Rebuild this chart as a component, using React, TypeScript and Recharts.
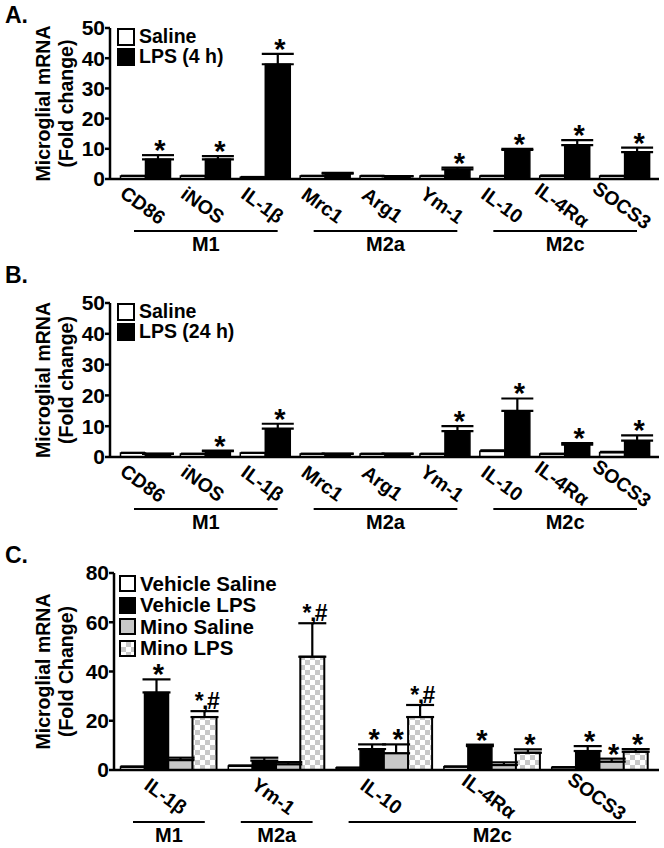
import React from 'react'
import { BarChart, Bar, XAxis, YAxis, ErrorBar, LabelList, Legend } from 'recharts'

const FONT = '"Liberation Sans", Arial, Helvetica, sans-serif'

// ---- Panels A and B: nine genes, saline vs LPS ----
const genesAB = ['CD86', 'iNOS', 'IL-1β', 'Mrc1', 'Arg1', 'Ym-1', 'IL-10', 'IL-4Rα', 'SOCS3']
const groupNamesAB = ['M1', 'M2a', 'M2c']
const groupSizesAB = [3, 3, 3]

const salineA = [1.0, 1.0, 0.6, 1.0, 1.0, 1.0, 1.0, 1.0, 1.0]
const salineAErr = [0.1, 0.1, 0.1, 0.1, 0.1, 0.1, 0.1, 0.2, 0.1]
const lps4h = [6.5, 6.5, 38.0, 1.8, 0.9, 3.2, 9.6, 11.2, 8.9]
const lps4hErr = [1.4, 1.1, 3.4, 0.2, 0.1, 0.6, 0.4, 1.7, 1.5]
const lps4hSig = ['*', '*', '*', '', '', '*', '*', '*', '*']

const salineB = [1.3, 1.0, 1.3, 1.0, 1.0, 1.0, 1.9, 1.0, 1.5]
const salineBErr = [0.1, 0.1, 0.1, 0.1, 0.1, 0.1, 0.3, 0.1, 0.2]
const lps24h = [1.0, 1.9, 9.2, 1.0, 1.0, 8.4, 15.0, 4.0, 5.3]
const lps24hErr = [0.1, 0.2, 1.6, 0.1, 0.1, 1.6, 4.0, 0.5, 1.7]
const lps24hSig = ['', '*', '*', '', '', '*', '*', '*', '*']

// ---- Panel C: minocycline ----
const genesC = ['IL-1β', 'Ym-1', 'IL-10', 'IL-4Rα', 'SOCS3']
const groupNamesC = ['M1', 'M2a', 'M2c']
const groupSizesC = [1, 1, 3]

const vehSaline = [1.2, 1.6, 0.9, 1.3, 1.0]
const vehSalineErr = [0.3, 0.3, 0.1, 0.2, 0.2]
const vehLps = [31.5, 3.8, 8.5, 9.7, 7.7]
const vehLpsErr = [5.3, 1.2, 1.9, 0.6, 2.0]
const vehLpsSig = ['*', '', '*', '*', '*']
const minoSaline = [4.0, 2.3, 6.8, 2.0, 3.4]
const minoSalineErr = [1.0, 0.9, 3.6, 1.1, 1.2]
const minoSalineSig = ['', '', '*', '', '*']
const minoLps = [21.5, 46.0, 21.5, 7.0, 7.4]
const minoLpsErr = [2.4, 13.6, 4.9, 1.4, 1.1]
const minoLpsSig = ['*,#', '*,#', '*,#', '*', '*']

const ticksAB = [0, 10, 20, 30, 40, 50]
const ticksC = [0, 20, 40, 60, 80]

const CHECKER = 'repeating-conic-gradient(#c8c8c8 0 25%, #ffffff 0 50%) 0 0 / 10px 10px'

const rowsAB = (saline: number[], sErr: number[], lps: number[], lErr: number[], sig: string[]) =>
  genesAB.map((g, i) => ({
    gene: g,
    saline: saline[i],
    salineErr: [0, sErr[i]],
    lps: lps[i],
    lpsErr: [0, lErr[i]],
    lpsSig: sig[i],
  }))

const dataA = rowsAB(salineA, salineAErr, lps4h, lps4hErr, lps4hSig)
const dataB = rowsAB(salineB, salineBErr, lps24h, lps24hErr, lps24hSig)
const dataC = genesC.map((g, i) => ({
  gene: g,
  vs: vehSaline[i], vsErr: [0, vehSalineErr[i]],
  vl: vehLps[i], vlErr: [0, vehLpsErr[i]], vlSig: vehLpsSig[i],
  ms: minoSaline[i], msErr: [0, minoSalineErr[i]], msSig: minoSalineSig[i],
  ml: minoLps[i], mlErr: [0, minoLpsErr[i]], mlSig: minoLpsSig[i],
}))

// middle index of each bracket group
const groupMids = (sizes: number[]) => {
  let start = 0
  return sizes.map((n) => {
    const mid = start + (n - 1) / 2
    start += n
    return mid
  })
}

const makeTick = (names: string[], sizes: number[], band: number) => {
  const mids = groupMids(sizes)
  return (props: any) => {
    const { x, y, payload, index } = props
    const gi = mids.indexOf(index)
    const half = gi >= 0 ? (sizes[gi] * band) / 2 - 18 : 0
    return (
      <g>
        <text
          transform={`translate(${x - 3},${y + 26}) rotate(36)`}
          textAnchor="middle"
          dominantBaseline="central"
          fontSize={19.5}
          fontWeight="bold"
          fontFamily={FONT}
          fill="#000"
        >
          {payload.value}
        </text>
        {gi >= 0 && (
          <g>
            <line x1={x - half} x2={x + half} y1={y + 52} y2={y + 52} stroke="#000" strokeWidth={2} />
            <text x={x} y={y + 72} textAnchor="middle" fontSize={20} fontWeight="bold" fontFamily={FONT} fill="#000">
              {names[gi]}
            </text>
          </g>
        )}
      </g>
    )
  }
}

// asterisk / hash markers sitting above the error bar
const makeSig = (vals: number[], errs: number[]) => (props: any) => {
  const { value, index } = props
  if (!value) return null
  const vb = props.viewBox || props
  const h = Math.abs(vb.height)
  const top = Math.min(vb.y, vb.y + vb.height)
  const errTop = top - (h / vals[index]) * errs[index]
  const cx = vb.x + vb.width / 2 + 2
  if (value === '*') {
    return (
      <text x={cx} y={errTop + 5} textAnchor="middle" fontSize={29} fontWeight="bold" fontFamily={FONT} fill="#000">
        *
      </text>
    )
  }
  return (
    <text
      x={cx}
      y={errTop - 2}
      textAnchor="middle"
      fontSize={23}
      fontWeight="bold"
      fontFamily={FONT}
      letterSpacing={-1.5}
      fill="#000"
    >
      {value}
    </text>
  )
}

const yLabel = (line2: string) => (props: any) => {
  const vb = props.viewBox
  const cx = 61
  const cy = vb.y + vb.height / 2
  return (
    <text
      transform={`rotate(-90, ${cx}, ${cy})`}
      textAnchor="middle"
      fontSize={19.5}
      fontWeight="bold"
      fontFamily={FONT}
      fill="#000"
    >
      <tspan x={cx} y={cy - 11}>Microglial mRNA</tspan>
      <tspan x={cx} y={cy + 12}>{line2}</tspan>
    </text>
  )
}

const legendBox = (items: { name: string; bg: string }[], box: number, rowH: number, fontSize: number) => () => (
  <div style={{ fontFamily: FONT, fontWeight: 'bold', fontSize, color: '#000', lineHeight: 1 }}>
    {items.map((it) => (
      <div key={it.name} style={{ display: 'flex', alignItems: 'center', height: rowH, whiteSpace: 'nowrap' }}>
        <div
          style={{
            width: box,
            height: box,
            border: '2px solid #000',
            boxSizing: 'border-box',
            background: it.bg,
            marginRight: 4,
          }}
        />
        {it.name}
      </div>
    ))}
  </div>
)

const axisStyle = { stroke: '#000', strokeWidth: 2.5 }
const yTick = { fontSize: 21, fontWeight: 'bold', fill: '#000', fontFamily: FONT }
const barStroke = { stroke: '#000', strokeWidth: 1.5 }

function PanelAB({ data, lpsVals, lpsErrs, lpsName, line2, top, marginTop, plotH }: any) {
  const width = 664
  const yW = 110
  const right = 5
  const pad = { left: 6, right: 4 }
  const band = (width - yW - right - pad.left - pad.right) / genesAB.length
  const xH = 80
  return (
    <div style={{ position: 'absolute', left: 0, top }}>
      <BarChart
        width={width}
        height={marginTop + plotH + xH}
        data={data}
        margin={{ top: marginTop, right, left: 0, bottom: 0 }}
        barCategoryGap={4.5}
        barGap={0}
      >
        <XAxis
          dataKey="gene"
          interval={0}
          height={xH}
          padding={pad}
          axisLine={axisStyle}
          tickLine={false}
          tickSize={0}
          tickMargin={0}
          tick={makeTick(groupNamesAB, groupSizesAB, band)}
        />
        <YAxis
          width={yW}
          domain={[0, 50]}
          ticks={ticksAB}
          interval={0}
          axisLine={axisStyle}
          tickLine={axisStyle}
          tickSize={5}
          tickMargin={0}
          tick={yTick}
          label={{ content: yLabel(line2) }}
        />
        <Legend
          layout="vertical"
          align="center"
          verticalAlign="middle"
          wrapperStyle={{ left: 117, top: marginTop - 1, width: 200, height: 42 }}
          content={legendBox(
            [
              { name: 'Saline', bg: '#fff' },
              { name: lpsName, bg: '#000' },
            ],
            18,
            20,
            19.5
          )}
        />
        <Bar dataKey="saline" name="Saline" fill="#fff" {...barStroke} isAnimationActive={false}>
          <ErrorBar dataKey="salineErr" width={12} stroke="#000" strokeWidth={2} direction="y" isAnimationActive={false} />
        </Bar>
        <Bar dataKey="lps" name={lpsName} fill="#000" {...barStroke} isAnimationActive={false}>
          <ErrorBar dataKey="lpsErr" width={16} stroke="#000" strokeWidth={2.2} direction="y" isAnimationActive={false} />
          <LabelList dataKey="lpsSig" content={makeSig(lpsVals, lpsErrs)} />
        </Bar>
      </BarChart>
    </div>
  )
}

function PanelC() {
  const width = 664
  const yW = 114
  const right = 5
  const pad = { left: 1, right: 5 }
  const band = (width - yW - right - pad.left - pad.right) / genesC.length
  const marginTop = 28
  const plotH = 197
  const xH = 78
  return (
    <div style={{ position: 'absolute', left: 0, top: 545 }}>
      <BarChart
        width={width}
        height={marginTop + plotH + xH}
        data={dataC}
        margin={{ top: marginTop, right, left: 0, bottom: 0 }}
        barCategoryGap={5.5}
        barGap={0}
      >
        <defs>
          <pattern id="checker" width={10} height={10} patternUnits="userSpaceOnUse">
            <rect width={10} height={10} fill="#fff" />
            <rect width={5} height={5} fill="#c8c8c8" />
            <rect x={5} y={5} width={5} height={5} fill="#c8c8c8" />
          </pattern>
        </defs>
        <XAxis
          dataKey="gene"
          interval={0}
          height={xH}
          padding={pad}
          axisLine={axisStyle}
          tickLine={false}
          tickSize={0}
          tickMargin={0}
          tick={makeTick(groupNamesC, groupSizesC, band)}
        />
        <YAxis
          width={yW}
          domain={[0, 80]}
          ticks={ticksC}
          interval={0}
          axisLine={axisStyle}
          tickLine={axisStyle}
          tickSize={5}
          tickMargin={0}
          tick={yTick}
          label={{ content: yLabel('(Fold Change)') }}
        />
        <Legend
          layout="vertical"
          align="center"
          verticalAlign="middle"
          wrapperStyle={{ left: 119, top: 28, width: 240, height: 86 }}
          content={legendBox(
            [
              { name: 'Vehicle Saline', bg: '#fff' },
              { name: 'Vehicle LPS', bg: '#000' },
              { name: 'Mino Saline', bg: '#c8c8c8' },
              { name: 'Mino LPS', bg: CHECKER },
            ],
            17,
            21.5,
            20.5
          )}
        />
        <Bar dataKey="vs" name="Vehicle Saline" fill="#fff" {...barStroke} isAnimationActive={false}>
          <ErrorBar dataKey="vsErr" width={12} stroke="#000" strokeWidth={2} direction="y" isAnimationActive={false} />
        </Bar>
        <Bar dataKey="vl" name="Vehicle LPS" fill="#000" {...barStroke} isAnimationActive={false}>
          <ErrorBar dataKey="vlErr" width={14} stroke="#000" strokeWidth={2.2} direction="y" isAnimationActive={false} />
          <LabelList dataKey="vlSig" content={makeSig(vehLps, vehLpsErr)} />
        </Bar>
        <Bar dataKey="ms" name="Mino Saline" fill="#c8c8c8" {...barStroke} isAnimationActive={false}>
          <ErrorBar dataKey="msErr" width={14} stroke="#000" strokeWidth={2.2} direction="y" isAnimationActive={false} />
          <LabelList dataKey="msSig" content={makeSig(minoSaline, minoSalineErr)} />
        </Bar>
        <Bar dataKey="ml" name="Mino LPS" fill="url(#checker)" {...barStroke} strokeWidth={2} isAnimationActive={false}>
          <ErrorBar dataKey="mlErr" width={14} stroke="#000" strokeWidth={2.2} direction="y" isAnimationActive={false} />
          <LabelList dataKey="mlSig" content={makeSig(minoLps, minoLpsErr)} />
        </Bar>
      </BarChart>
    </div>
  )
}

const panelTitle = (text: string, top: number) => (
  <div
    style={{
      position: 'absolute',
      left: 5,
      top,
      fontFamily: FONT,
      fontWeight: 'bold',
      fontSize: 23,
      lineHeight: '22px',
      color: '#000',
    }}
  >
    {text}
  </div>
)

export default function App() {
  return (
    <div style={{ position: 'absolute', left: 0, top: 0, width: 664, height: 848, background: '#fff', overflow: 'hidden' }}>
      {panelTitle('A.', 4)}
      {panelTitle('B.', 264)}
      {panelTitle('C.', 544)}
      <PanelAB data={dataA} lpsVals={lps4h} lpsErrs={lps4hErr} lpsName="LPS (4 h)" line2="(Fold change)" top={0} marginTop={28} plotH={151} />
      <PanelAB data={dataB} lpsVals={lps24h} lpsErrs={lps24hErr} lpsName="LPS (24 h)" line2="(Fold change)" top={273} marginTop={30} plotH={154} />
      <PanelC />
    </div>
  )
}
